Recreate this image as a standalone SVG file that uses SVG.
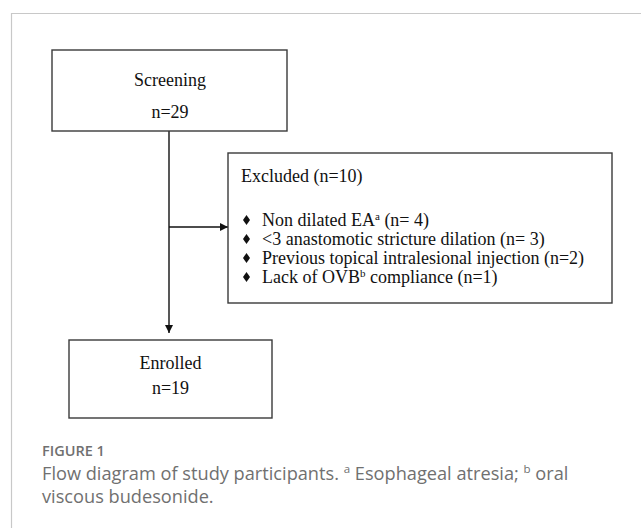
<svg xmlns="http://www.w3.org/2000/svg" width="641" height="528" viewBox="0 0 641 528">
<style>
.box{fill:#fff;stroke:#3a3a3a;stroke-width:1.4}
.t{font-family:"Liberation Serif","Times New Roman",serif;font-size:18px;fill:#111}
.c{text-anchor:middle}
.conn{stroke:#111;stroke-width:1.4;fill:none}
.sup{font-size:11px}
.cap{font-family:"Open Sans","Noto Sans",sans-serif;fill:#707070}
</style>
<defs>
<marker id="ah" viewBox="0 0 10 10" refX="10" refY="5" markerWidth="8" markerHeight="8" markerUnits="userSpaceOnUse" orient="auto">
<path d="M0,0 L10,5 L0,10 z" fill="#111"/>
</marker>
</defs>
<rect width="641" height="528" fill="#fff"/>
<path d="M11.5,528 V13.5 H641" fill="none" stroke="#c8c8c8" stroke-width="1.2"/>
<g id="connectors">
<line class="conn" x1="169" y1="131" x2="169" y2="333" marker-end="url(#ah)"/>
<line class="conn" x1="169" y1="227" x2="228" y2="227" marker-end="url(#ah)"/>
</g>
<g id="screening">
<rect class="box" x="52" y="50" width="235" height="81"/>
<text class="t c" x="170" y="86">Screening</text>
<text class="t c" x="170" y="117.5">n=29</text>
</g>
<g id="excluded">
<rect class="box" x="228" y="153" width="384" height="150"/>
<text class="t" x="241" y="182">Excluded (n=10)</text>
<g fill="#111">
<polygon points="246.5,215 250,220 246.5,225 243,220"/>
<polygon points="246.5,234 250,239 246.5,244 243,239"/>
<polygon points="246.5,253 250,258 246.5,263 243,258"/>
<polygon points="246.5,272 250,277 246.5,282 243,277"/>
</g>
<text class="t" x="262" y="225.5">Non dilated EA<tspan class="sup" dy="-6">a</tspan><tspan dy="6"> (n= 4)</tspan></text>
<text class="t" x="262" y="244.5">&lt;3 anastomotic stricture dilation (n= 3)</text>
<text class="t" x="262" y="263.5">Previous topical intralesional injection (n=2)</text>
<text class="t" x="262" y="282.5">Lack of OVB<tspan class="sup" dy="-6">b</tspan><tspan dy="6"> compliance (n=1)</tspan></text>
</g>
<g id="enrolled">
<rect class="box" x="69" y="340" width="203" height="78"/>
<text class="t c" x="170.5" y="369">Enrolled</text>
<text class="t c" x="170.5" y="394">n=19</text>
</g>
<g id="caption">
<text class="cap" x="42" y="456" font-size="14.5" font-weight="600" fill="#7a7a7a">FIGURE 1</text>
<text class="cap" x="42" y="480" font-size="18.2">Flow diagram of study participants. <tspan font-size="11.5" dy="-7">a</tspan><tspan dy="7"> Esophageal atresia; </tspan><tspan font-size="11.5" dy="-7">b</tspan><tspan dy="7"> oral</tspan></text>
<text class="cap" x="42" y="503" font-size="18.2">viscous budesonide.</text>
</g>
</svg>
